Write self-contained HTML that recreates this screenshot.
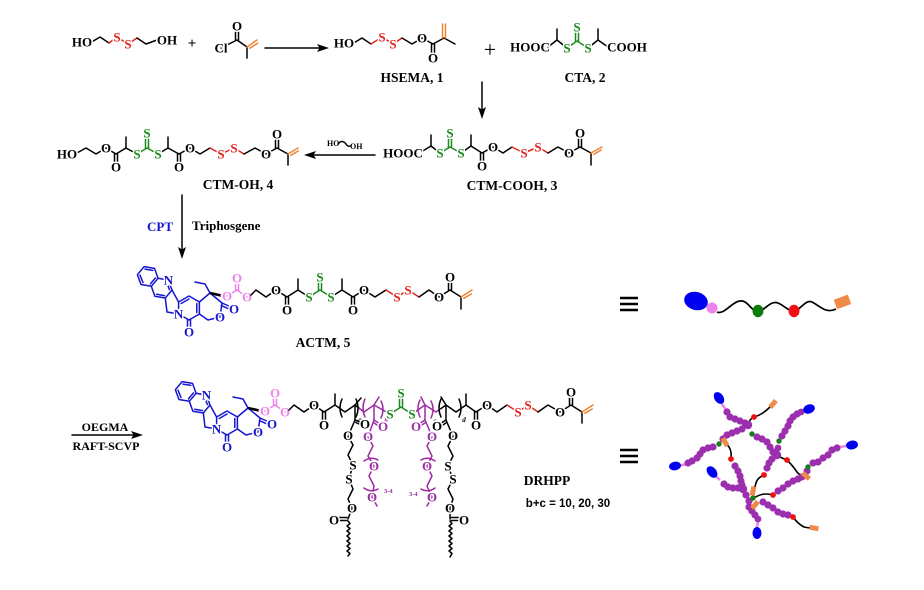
<!DOCTYPE html>
<html><head><meta charset="utf-8"><style>
html,body{margin:0;padding:0;background:#fff}
svg{display:block}
.k{stroke:#000;stroke-width:1.5;fill:none;stroke-linejoin:round;stroke-linecap:round}
.r{stroke:#e3221b}.g{stroke:#1b8a1b}.o{stroke:#ef8533}.bl{stroke:#1515d0}.p{stroke:#ee82ee}.v{stroke:#9c2ba3}
text{font-family:"Liberation Serif",serif;font-weight:bold}
.t{font-size:13px;text-anchor:middle;paint-order:stroke;stroke:#fff;stroke-width:3px;stroke-linejoin:round}
.lab{font-size:13.5px;text-anchor:middle}
.sub{font-size:7px;text-anchor:middle;font-style:italic}
</style></head><body>
<svg width="924" height="590" viewBox="0 0 924 590" xmlns="http://www.w3.org/2000/svg">
<rect width="924" height="590" fill="#fff"/>

<!-- ===== Row 1 ===== -->
<polyline class="k" points="90,43 100,37 109,43"/>
<polyline class="k r" points="109,43 117,37 128,44 137,38"/>
<polyline class="k" points="137,38 146,44 157,40"/>
<text class="t" x="82" y="46.5">HO</text>
<text class="t" x="117" y="41.5" fill="#e3221b">S</text>
<text class="t" x="128" y="48.5" fill="#e3221b">S</text>
<text class="t" x="167" y="44.5">OH</text>
<text x="192" y="48" font-size="15" text-anchor="middle">+</text>

<polyline class="k" points="221,48 237,40 247,47 247,58"/>
<line class="k" x1="235.5" y1="40" x2="235.5" y2="28"/><line class="k" x1="238.5" y1="40" x2="238.5" y2="28"/>
<line class="k o" x1="247" y1="47" x2="257" y2="40"/><line class="k o" x1="249.8" y1="48.3" x2="257.7" y2="43.2"/>
<text class="t" x="221" y="52.5">Cl</text>
<text class="t" x="237" y="30.5">O</text>
<line class="k" x1="265" y1="48" x2="320" y2="48"/>
<polygon points="329,48 317,44 319.5,48 317,52" fill="#000"/>

<!-- HSEMA -->
<polyline class="k" points="352,44 362,38 371,44"/>
<polyline class="k r" points="371,44 382,37 393,44 402,38"/>
<polyline class="k" points="402,38 412,44 422,38 433,44 444,38 455,44"/>
<line class="k" x1="431.5" y1="44" x2="431.5" y2="55"/><line class="k" x1="434.5" y1="44" x2="434.5" y2="55"/>
<line class="k o" x1="442.5" y1="38" x2="442.5" y2="24"/><line class="k o" x1="445.5" y1="38" x2="445.5" y2="24"/>
<text class="t" x="344" y="47.5">HO</text>
<text class="t" x="382" y="41.5" fill="#e3221b">S</text>
<text class="t" x="393" y="48.5" fill="#e3221b">S</text>
<text class="t" x="422" y="42.5">O</text>
<text class="t" x="433" y="62.5">O</text>
<text class="lab" x="412" y="82">HSEMA, 1</text>
<text x="490" y="57" font-size="22" text-anchor="middle" style="font-weight:normal">+</text>

<!-- CTA -->
<polyline class="k" points="548,47 557,40 567,48"/><line class="k" x1="557" y1="40" x2="557" y2="29"/>
<polyline class="k g" points="567,48 577,41 588,48"/>
<line class="k g" x1="575.5" y1="41" x2="575.5" y2="30"/><line class="k g" x1="578.5" y1="41" x2="578.5" y2="30"/>
<polyline class="k" points="588,48 598,40 608,47"/><line class="k" x1="598" y1="40" x2="598" y2="29"/>
<text class="t" x="530" y="51.5">HOOC</text>
<text class="t" x="567" y="52.5" fill="#1b8a1b">S</text>
<text class="t" x="577" y="31.5" fill="#1b8a1b">S</text>
<text class="t" x="588" y="52.5" fill="#1b8a1b">S</text>
<text class="t" x="627" y="51.5">COOH</text>
<text class="lab" x="585" y="82">CTA, 2</text>

<line class="k" x1="482" y1="82" x2="482" y2="110"/>
<polygon points="482,119 478,107 482,109.5 486,107" fill="#000"/>

<!-- ===== Row 2 ===== -->
<polyline class="k" points="75,154 86,148 96,154 106,148 116,154 126,148 137,154"/>
<line class="k" x1="126" y1="148" x2="126" y2="137"/>
<line class="k" x1="114.5" y1="154" x2="114.5" y2="164"/><line class="k" x1="117.5" y1="154" x2="117.5" y2="164"/>
<polyline class="k g" points="137,154 147,148 158,154"/>
<line class="k g" x1="145.5" y1="148" x2="145.5" y2="137"/><line class="k g" x1="148.5" y1="148" x2="148.5" y2="137"/>
<polyline class="k" points="158,154 168,148 179,154 190,148 200,154 210,148"/>
<line class="k" x1="168" y1="148" x2="168" y2="137"/>
<line class="k" x1="177.5" y1="154" x2="177.5" y2="164"/><line class="k" x1="180.5" y1="154" x2="180.5" y2="164"/>
<polyline class="k r" points="210,148 221,154 234,148 244,154"/>
<polyline class="k" points="244,154 255,148 266,154 277,148 288,154 288,165"/>
<line class="k" x1="275.5" y1="148" x2="275.5" y2="137"/><line class="k" x1="278.5" y1="148" x2="278.5" y2="137"/>
<line class="k o" x1="288" y1="154" x2="298" y2="148"/><line class="k o" x1="290.8" y1="155.3" x2="298.3" y2="151"/>
<text class="t" x="67" y="158.5">HO</text>
<text class="t" x="106" y="152.5">O</text>
<text class="t" x="116" y="171.5">O</text>
<text class="t" x="137" y="158.5" fill="#1b8a1b">S</text>
<text class="t" x="147" y="137.5" fill="#1b8a1b">S</text>
<text class="t" x="158" y="158.5" fill="#1b8a1b">S</text>
<text class="t" x="179" y="171.5">O</text>
<text class="t" x="190" y="152.5">O</text>
<text class="t" x="221" y="158.5" fill="#e3221b">S</text>
<text class="t" x="234" y="152.5" fill="#e3221b">S</text>
<text class="t" x="266" y="158.5">O</text>
<text class="t" x="277" y="138.5">O</text>
<text class="lab" x="238" y="189">CTM-OH, 4</text>

<line class="k" x1="313" y1="155" x2="375" y2="155"/>
<polygon points="304,155 316,151 313.5,155 316,159" fill="#000"/>
<text x="327" y="146" font-size="8">HO</text>
<path d="M338,144 Q342,139 346,144 Q348,147 350,146" class="k" stroke-width="0.9"/>
<text x="350" y="149" font-size="8">OH</text>

<polyline class="k" points="421,152 431,146 440,153"/><line class="k" x1="431" y1="146" x2="431" y2="135"/>
<polyline class="k g" points="440,153 450,147 461,153"/>
<line class="k g" x1="448.5" y1="147" x2="448.5" y2="136"/><line class="k g" x1="451.5" y1="147" x2="451.5" y2="136"/>
<polyline class="k" points="461,153 471,146 482,153 493,147 503,153 512,147"/>
<line class="k" x1="471" y1="146" x2="471" y2="135"/>
<line class="k" x1="480.5" y1="153" x2="480.5" y2="163"/><line class="k" x1="483.5" y1="153" x2="483.5" y2="163"/>
<polyline class="k r" points="512,147 524,153 538,147 548,153"/>
<polyline class="k" points="548,153 558,147 569,153 580,147 591,153 591,165"/>
<line class="k" x1="578.5" y1="147" x2="578.5" y2="136"/><line class="k" x1="581.5" y1="147" x2="581.5" y2="136"/>
<line class="k o" x1="591" y1="153" x2="602" y2="147"/><line class="k o" x1="593.8" y1="154.3" x2="601.3" y2="150"/>
<text class="t" x="403" y="157.5">HOOC</text>
<text class="t" x="440" y="157.5" fill="#1b8a1b">S</text>
<text class="t" x="450" y="137.5" fill="#1b8a1b">S</text>
<text class="t" x="461" y="157.5" fill="#1b8a1b">S</text>
<text class="t" x="482" y="170.5">O</text>
<text class="t" x="493" y="151.5">O</text>
<text class="t" x="524" y="157.5" fill="#e3221b">S</text>
<text class="t" x="538" y="151.5" fill="#e3221b">S</text>
<text class="t" x="569" y="157.5">O</text>
<text class="t" x="580" y="137.5">O</text>
<text class="lab" x="512" y="190">CTM-COOH, 3</text>

<line class="k" x1="182" y1="195" x2="182" y2="250"/>
<polygon points="182,259 178,247 182,249.5 186,247" fill="#000"/>
<text x="160" y="231" font-size="13" text-anchor="middle" fill="#1515d0">CPT</text>
<text x="192" y="230" font-size="13">Triphosgene</text>

<!-- ===== Row 3: ACTM ===== -->
<g>
<polygon class="k bl" points="154.5,268.4 158.1,278.3 151.3,286.3 141,284.5 137.4,274.7 144.1,266.6"/>
<polyline class="k bl" points="158.1,278.3 168.4,280.1 172,290 165.3,298 154.9,296.2 151.3,286.3"/>
<line class="k bl" x1="152.8" y1="270.4" x2="145" y2="269.1"/>
<line class="k bl" x1="140" y1="275.2" x2="143" y2="282.5"/>
<line class="k bl" x1="155.5" y1="277.9" x2="150.4" y2="283.9"/>
<line class="k bl" x1="166.7" y1="282.1" x2="169.4" y2="289.6"/>
<line class="k bl" x1="164.4" y1="295.6" x2="156.8" y2="294.2"/>
<polyline class="k bl" points="172,290 178.6,302"/>
<polyline class="k bl" points="165.3,298 167,312 178.6,314"/>
<polygon class="k bl" points="178.6,302 189,296 199.4,302 199.4,314 189,320 178.6,314"/>
<line class="k bl" x1="181.2" y1="303.5" x2="189" y2="299"/>
<line class="k bl" x1="196.8" y1="303.5" x2="196.8" y2="312.5"/>
<line class="k bl" x1="187.5" y1="320" x2="187.5" y2="328"/><line class="k bl" x1="190.5" y1="320" x2="190.5" y2="328"/>
<polyline class="k bl" points="199.4,302 210,293 222,303 220,317 208,320 199.4,314"/>
<line class="k bl" x1="222" y1="303" x2="231" y2="307"/><line class="k bl" x1="221.3" y1="305.6" x2="229.5" y2="309.2"/>
<polyline class="k bl" points="210,293 205,284 195,282"/>
<line x1="210" y1="293" x2="221" y2="295.5" stroke="#000" stroke-width="2.6"/>
<polyline class="k p" points="221,295.5 227,296 237,290 247,297"/>
<line class="k p" x1="235.5" y1="290" x2="235.5" y2="281"/><line class="k p" x1="238.5" y1="290" x2="238.5" y2="281"/>
<text class="t" x="168.4" y="284.6" fill="#1515d0">N</text>
<text class="t" x="178.6" y="318.5" fill="#1515d0">N</text>
<text class="t" x="189" y="336.5" fill="#1515d0">O</text>
<text class="t" x="220" y="321.5" fill="#1515d0">O</text>
<text class="t" x="234" y="313.5" fill="#1515d0">O</text>
<text class="t" x="227" y="300.5" fill="#ee82ee">O</text>
<text class="t" x="237" y="282.5" fill="#ee82ee">O</text>
<text class="t" x="247" y="301.5" fill="#ee82ee">O</text>
</g>
<polyline class="k" points="251,295 256,290 266,297 276,290 287,297 298,290 309,297"/>
<line class="k" x1="298" y1="290" x2="298" y2="279"/>
<line class="k" x1="285.5" y1="297" x2="285.5" y2="307"/><line class="k" x1="288.5" y1="297" x2="288.5" y2="307"/>
<polyline class="k g" points="309,297 320,290 331,297"/>
<line class="k g" x1="318.5" y1="290" x2="318.5" y2="280"/><line class="k g" x1="321.5" y1="290" x2="321.5" y2="280"/>
<polyline class="k" points="331,297 342,290 353,297 364,290 375,297 386,290"/>
<line class="k" x1="342" y1="290" x2="342" y2="279"/>
<line class="k" x1="351.5" y1="297" x2="351.5" y2="307"/><line class="k" x1="354.5" y1="297" x2="354.5" y2="307"/>
<polyline class="k r" points="386,290 397,297 408,290 419,297"/>
<polyline class="k" points="419,297 429,290 439,297 450,290 461,297 461,309"/>
<line class="k" x1="448.5" y1="290" x2="448.5" y2="280"/><line class="k" x1="451.5" y1="290" x2="451.5" y2="280"/>
<line class="k o" x1="461" y1="297" x2="472" y2="290"/><line class="k o" x1="463.8" y1="298.3" x2="471.3" y2="294"/>
<text class="t" x="276" y="294.5">O</text>
<text class="t" x="287" y="314.5">O</text>
<text class="t" x="309" y="301.5" fill="#1b8a1b">S</text>
<text class="t" x="320" y="281.5" fill="#1b8a1b">S</text>
<text class="t" x="331" y="301.5" fill="#1b8a1b">S</text>
<text class="t" x="353" y="314.5">O</text>
<text class="t" x="364" y="294.5">O</text>
<text class="t" x="397" y="301.5" fill="#e3221b">S</text>
<text class="t" x="408" y="294.5" fill="#e3221b">S</text>
<text class="t" x="439" y="301.5">O</text>
<text class="t" x="450" y="281.5">O</text>
<text class="lab" x="323" y="347">ACTM, 5</text>

<g stroke="#000" stroke-width="2.4"><line x1="620" y1="298" x2="638" y2="298"/><line x1="620" y1="304" x2="638" y2="304"/><line x1="620" y1="310" x2="638" y2="310"/></g>
<path d="M717,312 C725,316 735,296 745,302 C750,305 752,311 758,311 C765,311 770,300 778,303 C785,306 788,311 794,311 C800,311 805,299 812,302 C820,306 826,314 836,309" fill="none" stroke="#000" stroke-width="1.7"/>
<ellipse cx="696" cy="301" rx="12" ry="9" fill="#0000f0" transform="rotate(15 696 301)"/>
<circle cx="712" cy="308" r="5.5" fill="#ee82ee"/>
<ellipse cx="758" cy="311" rx="5.5" ry="6.2" fill="#0b7d0b"/>
<ellipse cx="794" cy="311" rx="5.5" ry="6.2" fill="#ee1111"/>
<rect x="835" y="297" width="15" height="10" fill="#ef8a47" transform="rotate(-20 842 302)"/>

<!-- ===== Row 4: DRHPP ===== -->
<line class="k" x1="72" y1="435" x2="134" y2="435"/>
<polygon points="143,435 131,431 133.5,435 131,439" fill="#000"/>
<text x="105" y="431" font-size="12" text-anchor="middle">OEGMA</text>
<text x="106" y="450" font-size="12" text-anchor="middle">RAFT-SCVP</text>

<g transform="translate(38,115)">
<polygon class="k bl" points="154.5,268.4 158.1,278.3 151.3,286.3 141,284.5 137.4,274.7 144.1,266.6"/>
<polyline class="k bl" points="158.1,278.3 168.4,280.1 172,290 165.3,298 154.9,296.2 151.3,286.3"/>
<line class="k bl" x1="152.8" y1="270.4" x2="145" y2="269.1"/>
<line class="k bl" x1="140" y1="275.2" x2="143" y2="282.5"/>
<line class="k bl" x1="155.5" y1="277.9" x2="150.4" y2="283.9"/>
<line class="k bl" x1="166.7" y1="282.1" x2="169.4" y2="289.6"/>
<line class="k bl" x1="164.4" y1="295.6" x2="156.8" y2="294.2"/>
<polyline class="k bl" points="172,290 178.6,302"/>
<polyline class="k bl" points="165.3,298 167,312 178.6,314"/>
<polygon class="k bl" points="178.6,302 189,296 199.4,302 199.4,314 189,320 178.6,314"/>
<line class="k bl" x1="181.2" y1="303.5" x2="189" y2="299"/>
<line class="k bl" x1="196.8" y1="303.5" x2="196.8" y2="312.5"/>
<line class="k bl" x1="187.5" y1="320" x2="187.5" y2="328"/><line class="k bl" x1="190.5" y1="320" x2="190.5" y2="328"/>
<polyline class="k bl" points="199.4,302 210,293 222,303 220,317 208,320 199.4,314"/>
<line class="k bl" x1="222" y1="303" x2="231" y2="307"/><line class="k bl" x1="221.3" y1="305.6" x2="229.5" y2="309.2"/>
<polyline class="k bl" points="210,293 205,284 195,282"/>
<line x1="210" y1="293" x2="221" y2="295.5" stroke="#000" stroke-width="2.6"/>
<polyline class="k p" points="221,295.5 227,296 237,290 247,297"/>
<line class="k p" x1="235.5" y1="290" x2="235.5" y2="281"/><line class="k p" x1="238.5" y1="290" x2="238.5" y2="281"/>
<text class="t" x="168.4" y="284.6" fill="#1515d0">N</text>
<text class="t" x="178.6" y="318.5" fill="#1515d0">N</text>
<text class="t" x="189" y="336.5" fill="#1515d0">O</text>
<text class="t" x="220" y="321.5" fill="#1515d0">O</text>
<text class="t" x="234" y="313.5" fill="#1515d0">O</text>
<text class="t" x="227" y="300.5" fill="#ee82ee">O</text>
<text class="t" x="237" y="282.5" fill="#ee82ee">O</text>
<text class="t" x="247" y="301.5" fill="#ee82ee">O</text>
</g>

<polyline class="k" points="289,410 294,405 304,412 314,405 324,412 335,405 345,412 355,405 359.5,408.5"/>
<line class="k" x1="335" y1="405" x2="335" y2="394"/>
<line class="k" x1="355" y1="405" x2="361" y2="398"/>
<line class="k" x1="322.5" y1="412" x2="322.5" y2="422"/><line class="k" x1="325.5" y1="412" x2="325.5" y2="422"/>
<path class="k" d="M342,399 Q338,408 342,417"/>
<path class="k" d="M356,399 Q360,408 356,417"/>
<text class="sub" x="360" y="422">a</text>
<polyline class="k v" points="359.5,408.5 364,412 374,405 390,414"/>
<line class="k v" x1="374" y1="405" x2="379" y2="397"/>
<path class="k v" d="M365,399 Q361,408 365,417"/>
<path class="k v" d="M381,401 Q385,409 381,418"/>
<text class="sub" x="386" y="423" fill="#9c2ba3">b</text>
<polyline class="k g" points="390,414 401,407 412,414"/>
<line class="k g" x1="399.5" y1="407" x2="399.5" y2="396"/><line class="k g" x1="402.5" y1="407" x2="402.5" y2="396"/>
<polyline class="k v" points="412,414 425,405 436,412 441,408.5"/>
<line class="k v" x1="425" y1="405" x2="421" y2="397"/>
<path class="k v" d="M420,400 Q416,408 420,417"/>
<path class="k v" d="M431,401 Q435,409 431,418"/>
<text class="sub" x="435" y="423" fill="#9c2ba3">c</text>
<polyline class="k" points="441,408.5 446,405 456,412 466,405 476,412 487,405 497,412 507,405"/>
<line class="k" x1="446" y1="405" x2="441" y2="397"/>
<line class="k" x1="466" y1="405" x2="466" y2="394"/>
<path class="k" d="M441,399 Q437,408 441,417"/>
<path class="k" d="M459,399 Q463,408 459,417"/>
<text class="sub" x="464" y="422">d</text>
<line class="k" x1="474.5" y1="412" x2="474.5" y2="422"/><line class="k" x1="477.5" y1="412" x2="477.5" y2="422"/>
<polyline class="k r" points="507,405 518,412 528,405 538,412"/>
<polyline class="k" points="538,412 548,405 560,412 571,405 582,412 582,423"/>
<line class="k" x1="569.5" y1="405" x2="569.5" y2="395"/><line class="k" x1="572.5" y1="405" x2="572.5" y2="395"/>
<line class="k o" x1="582" y1="412" x2="593" y2="405"/><line class="k o" x1="584.8" y1="413.3" x2="592.3" y2="409"/>

<polyline class="k" points="355,405 355,420 349,434"/>
<line class="k" x1="355" y1="420" x2="362" y2="423"/><line class="k" x1="355.8" y1="422.5" x2="361.2" y2="425"/>
<polyline class="k" points="348,436 353,445 348,455 353,465 349,479 353,489 348,499 352,508 348,519"/>
<line class="k" x1="347" y1="517.5" x2="338" y2="517.5"/><line class="k" x1="347" y1="520.5" x2="338" y2="520.5"/>
<polyline class="k" stroke-width="1.1" points="348,521 350,523.5 347,526 350,528.5 347,531 350,533.5 347,536 350,538.5 347,541 350,543.5 347,546 350,548.5 347,551 350,553.5 348,556"/>
<polyline class="k v" points="374,405 374,420 369,434"/>
<line class="k v" x1="374" y1="420" x2="381" y2="424.5"/><line class="k v" x1="373.6" y1="422.6" x2="379.5" y2="426.6"/>
<polyline class="k v" points="368,437 373,446 368,456 374,466 369,476 374,486 372,497 377,506"/>
<path class="k v" d="M364,461 Q371,456 378,460"/>
<path class="k v" d="M364,488 Q371,493 378,489"/>
<text x="384" y="493" font-size="6.5" fill="#9c2ba3">3-4</text>
<polyline class="k v" points="425,405 425,420 431,434"/>
<line class="k v" x1="425" y1="420" x2="418" y2="424.5"/><line class="k v" x1="425.4" y1="422.6" x2="419.5" y2="426.6"/>
<polyline class="k v" points="432,437 427,446 432,456 427,466 432,476 427,486 432,497 427,506"/>
<path class="k v" d="M421,460 Q428,456 435,461"/>
<path class="k v" d="M421,489 Q428,493 435,488"/>
<text x="409" y="496" font-size="6.5" fill="#9c2ba3">3-4</text>
<polyline class="k" points="446,405 446,420 452,434"/>
<line class="k" x1="446" y1="420" x2="439" y2="424.5"/><line class="k" x1="446.4" y1="422.6" x2="440.5" y2="426.6"/>
<polyline class="k" points="453,436 448,446 453,456 448,466 453,479 448,489 453,499 450,508 450,519"/>
<line class="k" x1="451" y1="517.5" x2="460" y2="517.5"/><line class="k" x1="451" y1="520.5" x2="460" y2="520.5"/>
<polyline class="k" stroke-width="1.1" points="450,521 452,523.5 449,526 452,528.5 449,531 452,533.5 449,536 452,538.5 449,541 452,543.5 449,546 452,548.5 449,551 452,553.5 450,557"/>

<text class="t" x="314" y="409.5">O</text>
<text class="t" x="324" y="429.5">O</text>
<text class="t" x="365" y="428.5">O</text>
<text class="t" x="348" y="440">O</text>
<text class="t" x="353" y="469.5">S</text>
<text class="t" x="349" y="483.5">S</text>
<text class="t" x="352" y="512.5">O</text>
<text class="t" x="334" y="524.5">O</text>
<text class="t" x="383" y="431" fill="#9c2ba3">O</text>
<text class="t" x="368" y="441" fill="#9c2ba3">O</text>
<text class="t" x="374" y="470.5" fill="#9c2ba3">O</text>
<text class="t" x="372" y="501.5" fill="#9c2ba3">O</text>
<text class="t" x="390" y="418.5" fill="#1b8a1b">S</text>
<text class="t" x="401" y="397.5" fill="#1b8a1b">S</text>
<text class="t" x="412" y="418.5" fill="#1b8a1b">S</text>
<text class="t" x="416" y="431" fill="#9c2ba3">O</text>
<text class="t" x="432" y="441" fill="#9c2ba3">O</text>
<text class="t" x="427" y="470.5" fill="#9c2ba3">O</text>
<text class="t" x="432" y="501.5" fill="#9c2ba3">O</text>
<text class="t" x="437" y="430.5">O</text>
<text class="t" x="453" y="440">O</text>
<text class="t" x="448" y="470.5">S</text>
<text class="t" x="453" y="483.5">S</text>
<text class="t" x="450" y="512.5">O</text>
<text class="t" x="464" y="524.5">O</text>
<text class="t" x="476" y="429.5">O</text>
<text class="t" x="487" y="409.5">O</text>
<text class="t" x="518" y="416.5" fill="#e3221b">S</text>
<text class="t" x="528" y="409.5" fill="#e3221b">S</text>
<text class="t" x="560" y="416.5">O</text>
<text class="t" x="571" y="396.5">O</text>
<text class="lab" x="547" y="485" font-size="13">DRHPP</text>
<text x="568" y="507" font-size="11.5" text-anchor="middle" style="font-family:'Liberation Sans',sans-serif">b+c = 10, 20, 30</text>

<g stroke="#000" stroke-width="2.4"><line x1="620" y1="450" x2="638" y2="450"/><line x1="620" y1="456" x2="638" y2="456"/><line x1="620" y1="462" x2="638" y2="462"/></g>

<g fill="none" stroke="#000" stroke-width="1.6">
<path d="M749,422 Q751,418 754,417 Q762,415 770,407"/>
<path d="M780,457 Q784,459 787,460 Q793,466 797,472 Q800,476 805,476"/>
<path d="M764,475 Q757,478 756,483 Q755,487 754,489"/>
<path d="M726,444 Q732,448 731,458"/>
<path d="M754,498 Q760,494 766,494 Q770,494 773,495"/>
<path d="M793,517 Q798,524 804,527 Q808,528 812,528"/>
</g>
<g stroke="#ee82ee" stroke-width="2.6">
<line x1="722" y1="404" x2="726" y2="410"/>
<line x1="687" y1="464" x2="680" y2="465.5"/>
<line x1="802" y1="412" x2="806" y2="410.5"/>
<line x1="720" y1="480" x2="715" y2="475.5"/>
<line x1="758" y1="521" x2="757" y2="527"/>
<line x1="840" y1="447" x2="846" y2="446"/>
</g>
<g fill="#9b2fae">
<circle cx="727" cy="412" r="3.6"/><circle cx="730" cy="417" r="3.6"/><circle cx="735" cy="419" r="3.6"/><circle cx="740" cy="421" r="3.6"/><circle cx="745" cy="423" r="3.6"/><circle cx="748" cy="425" r="4.2"/>
<circle cx="742" cy="429" r="3.6"/><circle cx="737" cy="431" r="3.6"/><circle cx="732" cy="433" r="3.6"/><circle cx="727" cy="435" r="3.6"/><circle cx="723" cy="439" r="3.6"/>
<circle cx="713" cy="447" r="3.6"/><circle cx="708" cy="448" r="3.6"/><circle cx="703" cy="450" r="3.6"/><circle cx="700" cy="454" r="3.6"/><circle cx="697" cy="458" r="3.6"/><circle cx="692" cy="461" r="3.6"/><circle cx="688" cy="463" r="3.6"/>
<circle cx="757" cy="437" r="3.6"/><circle cx="762" cy="439" r="3.6"/><circle cx="767" cy="442" r="3.6"/><circle cx="770" cy="447" r="3.6"/><circle cx="773" cy="452" r="3.6"/><circle cx="777" cy="455" r="4.2"/>
<circle cx="778" cy="448" r="3.4"/><circle cx="782" cy="436" r="3.6"/><circle cx="785" cy="431" r="3.6"/><circle cx="788" cy="426" r="3.6"/><circle cx="790" cy="421" r="3.6"/><circle cx="793" cy="417" r="3.6"/><circle cx="797" cy="414" r="3.6"/><circle cx="801" cy="412" r="3.4"/>
<circle cx="772" cy="459" r="3.6"/><circle cx="769" cy="463" r="3.6"/><circle cx="767" cy="468" r="3.6"/>
<circle cx="735" cy="466" r="3.6"/><circle cx="738" cy="471" r="3.6"/><circle cx="740" cy="476" r="3.6"/><circle cx="741" cy="481" r="3.6"/><circle cx="742" cy="485" r="3.6"/><circle cx="743" cy="489" r="4.2"/>
<circle cx="738" cy="488" r="3.6"/><circle cx="733" cy="488" r="3.6"/><circle cx="728" cy="487" r="3.6"/><circle cx="724" cy="484" r="3.6"/>
<circle cx="746" cy="495" r="3.6"/><circle cx="749" cy="501" r="3.6"/><circle cx="749" cy="507" r="3.6"/><circle cx="752" cy="511" r="3.6"/><circle cx="755" cy="515" r="3.6"/><circle cx="758" cy="519" r="3.4"/>
<circle cx="778" cy="491" r="3.6"/><circle cx="783" cy="488" r="3.6"/><circle cx="788" cy="484" r="3.6"/><circle cx="793" cy="481" r="3.6"/><circle cx="798" cy="479" r="3.6"/><circle cx="802" cy="477" r="3.6"/>
<circle cx="763" cy="502" r="3.6"/><circle cx="768" cy="505" r="3.6"/><circle cx="773" cy="508" r="3.6"/><circle cx="778" cy="512" r="3.6"/><circle cx="783" cy="514" r="3.6"/><circle cx="788" cy="515" r="3.6"/>
<circle cx="807" cy="471" r="3.6"/><circle cx="813" cy="463" r="3.6"/><circle cx="818" cy="462" r="3.6"/><circle cx="823" cy="458" r="3.6"/><circle cx="828" cy="455" r="3.6"/><circle cx="832" cy="450" r="3.6"/><circle cx="837" cy="448" r="3.6"/>
</g>
<g fill="#1a7d1a">
<circle cx="719" cy="444" r="2.7"/><circle cx="752" cy="434" r="2.7"/><circle cx="779" cy="441" r="2.7"/><circle cx="753" cy="498" r="2.7"/><circle cx="808" cy="467" r="2.7"/>
</g>
<g fill="#ee1111">
<circle cx="754" cy="417" r="2.9"/><circle cx="787" cy="460" r="2.9"/><circle cx="764" cy="475" r="2.9"/><circle cx="731" cy="459" r="2.9"/><circle cx="773" cy="495" r="2.9"/><circle cx="793" cy="517" r="2.9"/>
</g>
<g fill="#ef8a47">
<rect x="770.5" y="399.5" width="5" height="9" transform="rotate(40 773 404)"/>
<rect x="803.5" y="471.5" width="5" height="9" transform="rotate(-50 806 476)"/>
<rect x="750.5" y="486.5" width="5" height="9" transform="rotate(10 753 491)"/>
<rect x="722.5" y="437.5" width="5" height="9" transform="rotate(-30 725 442)"/>
<rect x="752.5" y="500.5" width="5" height="9" transform="rotate(40 755 505)"/>
<rect x="809.5" y="525.5" width="9" height="5" transform="rotate(10 814 528)"/>
</g>
<g fill="#0000f0">
<ellipse cx="719" cy="398" rx="4.5" ry="6.5" transform="rotate(-35 719 398)"/>
<ellipse cx="675" cy="466" rx="6" ry="4.3" transform="rotate(-10 675 466)"/>
<ellipse cx="809" cy="409" rx="6" ry="4.5" transform="rotate(-20 809 409)"/>
<ellipse cx="712" cy="472" rx="4.5" ry="6.5" transform="rotate(-40 712 472)"/>
<ellipse cx="757" cy="533" rx="4.5" ry="6"/>
<ellipse cx="852" cy="445" rx="6" ry="4.5" transform="rotate(-10 852 445)"/>
</g>
</svg>
</body></html>
